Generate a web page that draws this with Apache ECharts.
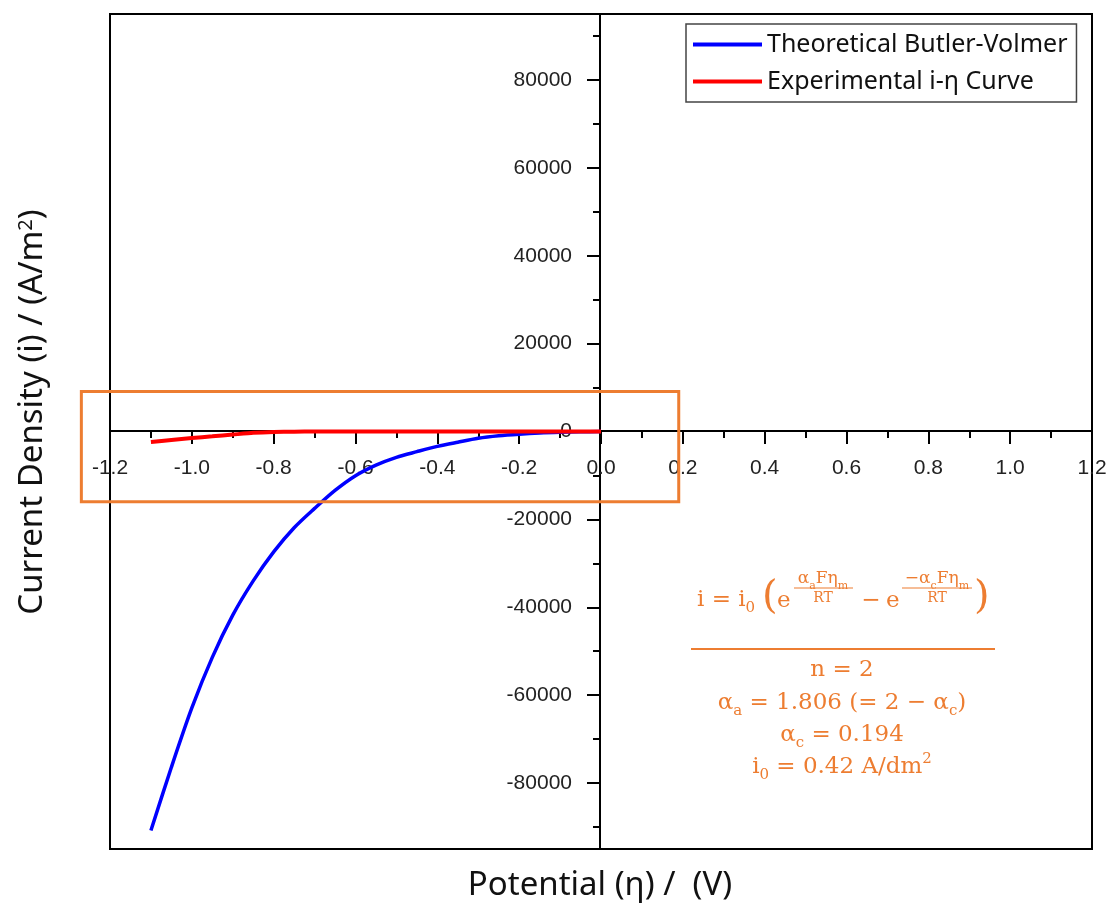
<!DOCTYPE html>
<html>
<head>
<meta charset="utf-8">
<title>Butler-Volmer</title>
<script src="https://cdn.jsdelivr.net/npm/echarts@6/dist/echarts.min.js"></script>
<style>
  html, body { margin: 0; padding: 0; background: #fff; }
  #main { width: 1110px; height: 912px; }
</style>
</head>
<body>
<div id="main"></div>
<script>
// potential (V) and current density (A/m2)
var potentialBlue = [-1.10, -1.05, -1.00, -0.95, -0.90, -0.85, -0.80, -0.75, -0.70, -0.65, -0.60, -0.55,
                     -0.50, -0.45, -0.40, -0.35, -0.30, -0.25, -0.20, -0.15, -0.10, -0.05, 0.00];
var currentBlue = [-90800, -76400, -62900, -51400, -41800, -34000, -27400, -21900, -17500, -13400, -10050, -7640,
                   -5870, -4590, -3390, -2430, -1530, -960, -600, -340, -180, -80, 0];

var potentialRed = [-1.10, -1.05, -1.00, -0.95, -0.90, -0.85, -0.80, -0.75, -0.70, -0.60, -0.50, -0.40, -0.30, -0.20, -0.10, 0.00];
var currentRed = [-2400, -1950, -1500, -1100, -700, -300, -100, -40, -20, -10, -5, 0, 0, 0, 0, 0];

var yTicks = [-80000, -60000, -40000, -20000, 0, 20000, 40000, 60000, 80000];
var yMinorTicks = [-90000, -70000, -50000, -30000, -10000, 10000, 30000, 50000, 70000, 90000];

// highlighted region (data coords)
var boxX = [-1.27, 0.19];
var boxY = [9100, -16000];

var seriesNames = ['Theoretical Butler-Volmer', 'Experimental i-η Curve'];

function pairs(xs, ys) {
    var out = [];
    for (var i = 0; i < xs.length; i++) out.push([xs[i], ys[i]]);
    return out;
}

var myChart = echarts.init(document.getElementById('main'));

var orange = '#ed7d31';
var serif = '"DejaVu Serif", serif';
var sans = '"Noto Sans", sans-serif';
var arial = '"Liberation Sans", Arial, sans-serif';

var X_MIN = -1.2, X_MAX = 1.2, Y_MIN = -95000, Y_MAX = 95000;
var black = { color: '#000', width: 2 };

// grid 0: the frame and the data, grid 1: x axis through y=0, grid 2: y axis through x=0
var option = {
    backgroundColor: '#fff',
    animation: false,
    grid: [
        { left: 110, right: 18, top: 14, bottom: 63, show: true, borderColor: '#000', borderWidth: 2, backgroundColor: 'transparent' },
        { left: 110, right: 18, top: 14, bottom: 481 },
        { left: 600, right: 18, top: 14, bottom: 63 }
    ],
    legend: {
        data: seriesNames,
        orient: 'vertical',
        left: 686, top: 24,
        icon: 'rect',
        itemWidth: 69, itemHeight: 4,
        itemGap: 12,
        padding: [8, 9, 8, 7],
        borderColor: '#444', borderWidth: 1.5,
        textStyle: { fontFamily: sans, fontSize: 25, color: '#111' }
    },
    xAxis: [{
        gridIndex: 0, type: 'value', min: X_MIN, max: X_MAX, show: false
    }, {
        gridIndex: 1, type: 'value', position: 'bottom',
        min: X_MIN, max: X_MAX, interval: 0.2,
        axisLine: { onZero: false, lineStyle: black },
        axisTick: { length: 13, lineStyle: black },
        minorTick: { show: true, splitNumber: 2, length: 7, lineStyle: black },
        axisLabel: {
            margin: 27, fontSize: 21, color: '#222', fontFamily: arial,
            showMinLabel: true, showMaxLabel: true,
            formatter: function (v) { return v.toFixed(1); }
        },
        splitLine: { show: false }
    }, {
        gridIndex: 2, type: 'value', min: 0, max: 1, show: false
    }],
    yAxis: [{
        gridIndex: 0, type: 'value', min: Y_MIN, max: Y_MAX, show: false
    }, {
        gridIndex: 1, type: 'value', min: 0, max: 1, show: false
    }, {
        gridIndex: 2, type: 'value', position: 'left',
        min: Y_MIN, max: Y_MAX, splitNumber: 10,
        axisLine: { onZero: false, lineStyle: black },
        axisTick: { customValues: yTicks, length: 13, lineStyle: black },
        axisLabel: {
            customValues: yTicks, margin: 28, fontSize: 21, color: '#222', fontFamily: arial,
            formatter: function (v) { return String(v); }
        },
        splitLine: { show: false }
    }, {
        gridIndex: 2, type: 'value', position: 'left', offset: 0,
        min: Y_MIN, max: Y_MAX, splitNumber: 10,
        axisLine: { show: false, onZero: false },
        axisTick: { customValues: yMinorTicks, length: 7, lineStyle: black },
        axisLabel: { show: false },
        splitLine: { show: false }
    }],
    series: [{
        name: seriesNames[0],
        type: 'line',
        xAxisIndex: 0, yAxisIndex: 0,
        data: pairs(potentialBlue, currentBlue),
        showSymbol: false,
        smooth: 0.3,
        lineStyle: { color: '#0000ff', width: 3.5 },
        itemStyle: { color: '#0000ff' },
        z: 3
    }, {
        name: seriesNames[1],
        type: 'line',
        xAxisIndex: 0, yAxisIndex: 0,
        data: pairs(potentialRed, currentRed),
        showSymbol: false,
        smooth: 0.2,
        lineStyle: { color: '#ff0000', width: 4 },
        itemStyle: { color: '#ff0000' },
        z: 4
    }]
};

myChart.setOption(option);

function txt(text, x, y, size, align) {
    return {
        type: 'text', x: x, y: y, z: 100,
        style: {
            text: text, fill: orange, fontFamily: serif, fontSize: size,
            align: align || 'left', verticalAlign: 'middle',
            rich: {
                s: { fontSize: Math.round(size * 0.65), verticalAlign: 'bottom', lineHeight: 14, fill: orange, fontFamily: serif },
                p: { fontSize: Math.round(size * 0.65), verticalAlign: 'top', lineHeight: 14, fill: orange, fontFamily: serif },
                n: { fontSize: size, lineHeight: size + 8, fill: orange, fontFamily: serif }
            }
        }
    };
}

function bar(x1, x2, y, w) {
    return { type: 'line', z: 100, shape: { x1: x1, y1: y, x2: x2, y2: y }, style: { stroke: orange, lineWidth: w } };
}

var p1 = myChart.convertToPixel({ gridIndex: 0 }, [boxX[0], boxY[0]]);
var p2 = myChart.convertToPixel({ gridIndex: 0 }, [boxX[1], boxY[1]]);

myChart.setOption({
    graphic: [
        {
            type: 'rect', z: 90,
            shape: { x: p1[0], y: p1[1], width: p2[0] - p1[0], height: p2[1] - p1[1] },
            style: { fill: 'none', stroke: orange, lineWidth: 3 }
        },
        {
            type: 'text', x: 33, y: 412, rotation: Math.PI / 2, z: 100,
            style: {
                text: 'Current Density (i) / (A/m{p|2})', fill: '#111', fontFamily: sans, fontSize: 33,
                align: 'center', verticalAlign: 'middle',
                rich: { p: { fontSize: 20, verticalAlign: 'top', lineHeight: 20, fill: '#111', fontFamily: sans } }
            }
        },
        {
            type: 'text', x: 600, y: 886, z: 100,
            style: {
                text: 'Potential (η) /  (V)', fill: '#111', fontFamily: sans, fontSize: 33,
                align: 'center', verticalAlign: 'middle'
            }
        },
        // formula, first line
        txt('{n|i = i}{s|0}', 697, 600, 23, 'left'),
        txt('(', 762, 598, 40, 'left'),
        txt('e', 777, 601, 23, 'left'),
        txt('{n|α}{s|a}{n|Fη}{s|m}', 823, 579, 17, 'center'),
        bar(794, 853, 588, 1.2),
        txt('RT', 823, 598, 14, 'center'),
        txt('−', 871, 601, 23, 'center'),
        txt('e', 886, 601, 23, 'left'),
        txt('{n|−α}{s|c}{n|Fη}{s|m}', 937, 579, 17, 'center'),
        bar(902, 972, 588, 1.2),
        txt('RT', 937, 598, 14, 'center'),
        txt(')', 974, 598, 40, 'left'),
        bar(691, 995, 649, 2),
        txt('{n|n = 2}', 842, 670, 23, 'center'),
        txt('{n|α}{s|a}{n| = 1.806 (= 2 − α}{s|c}{n|)}', 842, 703, 23, 'center'),
        txt('{n|α}{s|c}{n| = 0.194}', 842, 735, 23, 'center'),
        txt('{n|i}{s|0}{n| = 0.42 A/dm}{p|2}', 842, 767, 23, 'center')
    ]
});

window.addEventListener('resize', function () {
    myChart.resize();
});
</script>
</body>
</html>
